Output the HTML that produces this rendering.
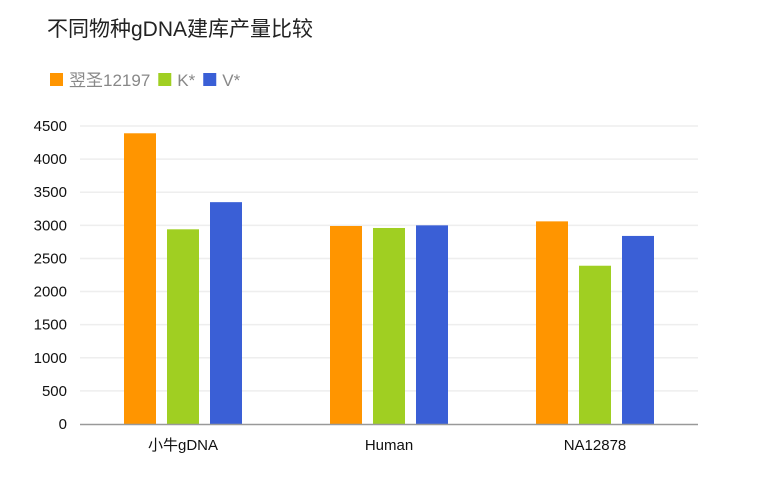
<!DOCTYPE html>
<html><head><meta charset="utf-8"><style>
body{margin:0;background:#fff;width:772px;height:472px;overflow:hidden;font-family:"Liberation Sans","Noto Sans CJK SC",sans-serif}
</style></head><body>
<svg width="772" height="472">
<text x="47" y="36" font-size="21" fill="#222" font-family="Liberation Sans, Noto Sans CJK SC, sans-serif">不同物种gDNA建库产量比较</text>
<g id="legend" font-size="17" fill="#888" font-family="Liberation Sans, Noto Sans CJK SC, sans-serif"></g>
<g id="grid"></g><g id="bars"></g><g id="axes"></g>
</svg>
<script>
const categories=["小牛gDNA","Human","NA12878"];
const seriesNames=["翌圣12197","K*","V*"];
const series1=[4390,2990,3060];
const series2=[2940,2960,2390];
const series3=[3350,3000,2840];
const yTicks=[0,500,1000,1500,2000,2500,3000,3500,4000,4500];
const colors=["#ff9500","#a0cf22","#3a5fd6"];
const NS="http://www.w3.org/2000/svg";
const x0=80,x1=698,yb=424,yt=126,ymax=4500;
const y=v=>yb-(v/ymax)*(yb-yt);
const gw=(x1-x0)/categories.length;
function mk(t,a,p){const e=document.createElementNS(NS,t);for(const k in a)e.setAttribute(k,a[k]);p.appendChild(e);return e;}
const grid=document.getElementById('grid'),axes=document.getElementById('axes'),bars=document.getElementById('bars'),leg=document.getElementById('legend');
yTicks.forEach(v=>{
 if(v>0){const l=mk('line',{x1:x0,x2:x1,y1:y(v),y2:y(v),stroke:'#eee','stroke-width':1.5},grid);
 
 }
 const t=mk('text',{x:67,y:y(v)+5,'text-anchor':'end','font-size':15,fill:'#111'},axes);
 t.textContent=v;
 
 
});
const ax=mk('line',{x1:x0,x2:x1,y1:yb+0.5,y2:yb+0.5,stroke:'#999','stroke-width':1.5},axes);


const all=[series1,series2,series3];
categories.forEach((c,i)=>{
 const cx=x0+gw*(i+0.5);
 all.forEach((s,j)=>{
  const bx=cx-59+j*43;
  const r=mk('rect',{x:bx,y:y(s[i]),width:32,height:yb-y(s[i]),fill:colors[j]},bars);
  
  
 });
 const t=mk('text',{x:cx,y:450,'text-anchor':'middle','font-size':15,fill:'#111','font-family':'Liberation Sans, Noto Sans CJK SC, sans-serif'},axes);
 t.textContent=c;
 
 
});
let lx=50;
seriesNames.forEach((n,j)=>{
 const r=mk('rect',{x:lx,y:73,width:13,height:13,fill:colors[j]},leg);
 
 
 const t=mk('text',{x:lx+19,y:86},leg);
 t.textContent=n;
 
 
 lx+=19+t.getComputedTextLength()+8;
});
</script>
</body></html>
